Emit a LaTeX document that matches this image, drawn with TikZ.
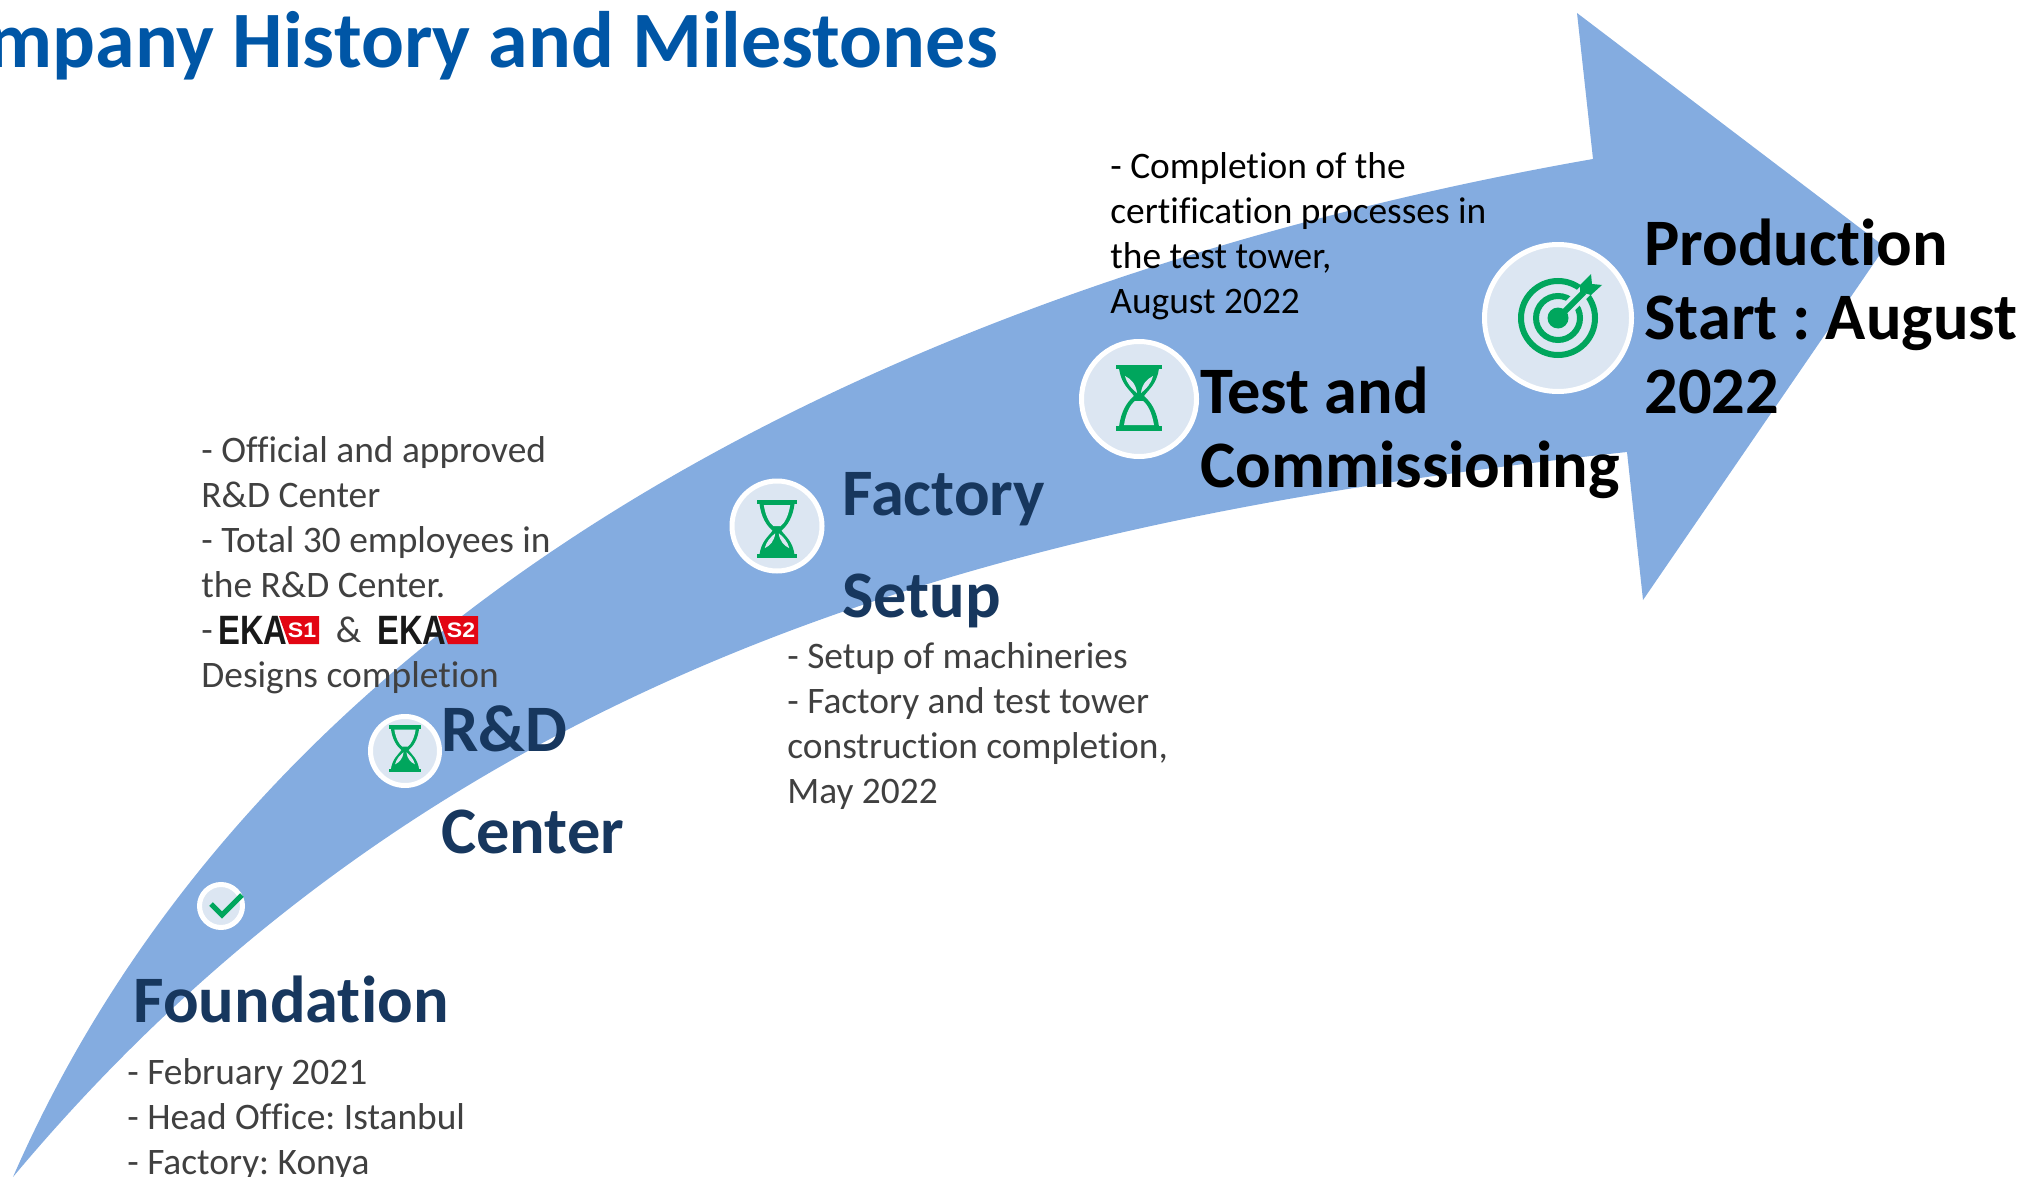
\documentclass[tikz,border=0pt]{standalone}
\usepackage{fontspec}
\setmainfont{Carlito}[Ligatures=CommonOff]
\definecolor{arrowblue}{HTML}{84ACE0}
\definecolor{ringfill}{HTML}{DCE6F2}
\definecolor{icongreen}{HTML}{00A65D}
\definecolor{navytext}{HTML}{17375E}
\definecolor{titleblue}{HTML}{0056A6}
\definecolor{greytext}{HTML}{404040}
\definecolor{logored}{HTML}{E30613}
\tikzset{
	headtext/.style={inner sep=0pt, align=left, anchor=north west, font=\bfseries\fontsize{33.2}{37}\selectfont},
	loosehead/.style={headtext, text=navytext, font=\bfseries\fontsize{33.2}{51}\selectfont},
	bodytext/.style={inner sep=0pt, align=left, anchor=north west, text=greytext, font=\fontsize{18.7}{22.5}\selectfont},
	iconring/.style={circle, draw=white, line width=2.5pt, fill=ringfill, inner sep=0pt},
	hourglass/.pic={
		\fill[icongreen] (-23,-34) rectangle (23,-30);
		\fill[icongreen] (-23,27) rectangle (23,32);
		\fill[icongreen] (-20,-31) .. controls (-18,-15) and (-10,-10) .. (-5,-3) .. controls (-12,3) and (-18,12) .. (-20,28) -- (20,28) .. controls (18,12) and (12,3) .. (5,-3) .. controls (10,-10) and (18,-15) .. (20,-31) -- cycle;
		\fill[ringfill] (-15,26) .. controls (-13,14) and (-9,6) .. (-4,2) -- (4,2) .. controls (9,6) and (13,14) .. (15,26) -- cycle;
		\fill[ringfill] (-14,-23) .. controls (-8,-20) and (-3,-15) .. (-2,-6) .. controls (-7,-10) and (-12,-15) .. (-14,-23) -- cycle;
		\fill[ringfill] (14,-23) .. controls (8,-20) and (3,-15) .. (2,-6) .. controls (7,-10) and (12,-15) .. (14,-23) -- cycle;
	},
	target/.pic={
		\draw[icongreen, line width=3pt] (0,0) circle (37);
		\draw[icongreen, line width=3pt] (0,0) circle (22);
		\draw[ringfill, line width=6.5pt] (8,-8) -- (36,-36);
		\fill[icongreen] (0,0) circle (10.5);
		\draw[icongreen, line width=3pt] (0,0) -- (26,-26);
		\fill[icongreen] (22,-33) -- (33,-44) -- (34,-34) -- (44,-33) -- (33,-23) -- (22,-26) -- cycle;
	},
	ekalogo/.pic={
		\fill[logored] (61,0) -- (101,0) -- (101,28) -- (71,28) -- cycle;
		\node[anchor=west, inner sep=0pt, text=black!90] (-word) at (0,14) {\scalebox{0.8}[1]{\fontspec{Liberation Sans}\bfseries\fontsize{20.5}{20}\selectfont EKA}};
		\node[inner sep=0pt, text=white] (-tag) at (84,14) {\scalebox{1.1}[1]{\fontspec{Liberation Sans}\bfseries\fontsize{10.5}{10}\selectfont #1}};
	}
}
\begin{document}
\frenchspacing
\begin{tikzpicture}[x=0.5pt, y=-0.5pt]
	
	\useasboundingbox (0,0) rectangle (2024,1177);
	
	% Big arrow
	\fill[arrowblue] (13,1177) .. controls (288,547) and (993,264) .. (1593,159)
		-- (1577,13) -- (1885,247) -- (1643,600) -- (1627,452)
		.. controls (1040,516) and (455,648) .. cycle;
	
	% Title
	\node[anchor=base east, inner sep=0pt, text=titleblue, font=\bfseries\fontsize{40}{48}\selectfont] (title) at (998,68) {Company History and Milestones};
	
	% Icons
	\node[iconring, minimum size=21.5pt] (checkring) at (221,906) {};
	\draw[icongreen, line width=2.5pt] (211,904) -- (222,915) -- (242,895);
	
	\node[iconring, minimum size=34.5pt] (rdring) at (405,751) {};
	\pic[scale=0.71, yscale=-1] at (405,748) {hourglass};
	
	\node[iconring, minimum size=45pt] (factoryring) at (777,526) {};
	\pic[scale=0.88, yscale=-1] at (777,528) {hourglass};
	
	\node[iconring, minimum size=57.5pt] (testring) at (1139,399) {};
	\pic at (1139,399) {hourglass};
	
	\node[iconring, minimum size=73.5pt] (startring) at (1558,318) {};
	\pic at (1558,318) {target};
	
	% Headings
	\node[headtext, text=navytext] (foundation) at (133,975) {Foundation};
	\node[loosehead] (rdcenter) at (441,705) {R\&D\\Center};
	\node[loosehead] (factorysetup) at (842,472) {Factory\\Setup};
	\node[headtext] (testcomm) at (1200,367) {Test and\\Commissioning};
	\node[headtext] (production) at (1644,219) {Production\\Start : August\\2022};
	
	% Details
	\node[bodytext] (foundationtext) at (127,1058) {- February 2021\\- Head Office: Istanbul\\- Factory: Konya};
	\node[bodytext] (rdtext) at (201,436) {- Official and approved\\R\&D Center\\- Total 30 employees in\\the R\&D Center.\\-\hspace{61.5pt}\&\\Designs completion};
	\node[bodytext] (factorytext) at (787,642) {- Setup of machineries\\- Factory and test tower\\construction completion,\\May 2022};
	\node[bodytext, text=black] (testtext) at (1110,152) {- Completion of the\\certification processes in\\the test tower,\\August 2022};
	
	% Logos
	\pic (logoa) at (218,616) {ekalogo=S1};
	\pic (logob) at (377,616) {ekalogo=S2};
	
\end{tikzpicture}
\end{document}
